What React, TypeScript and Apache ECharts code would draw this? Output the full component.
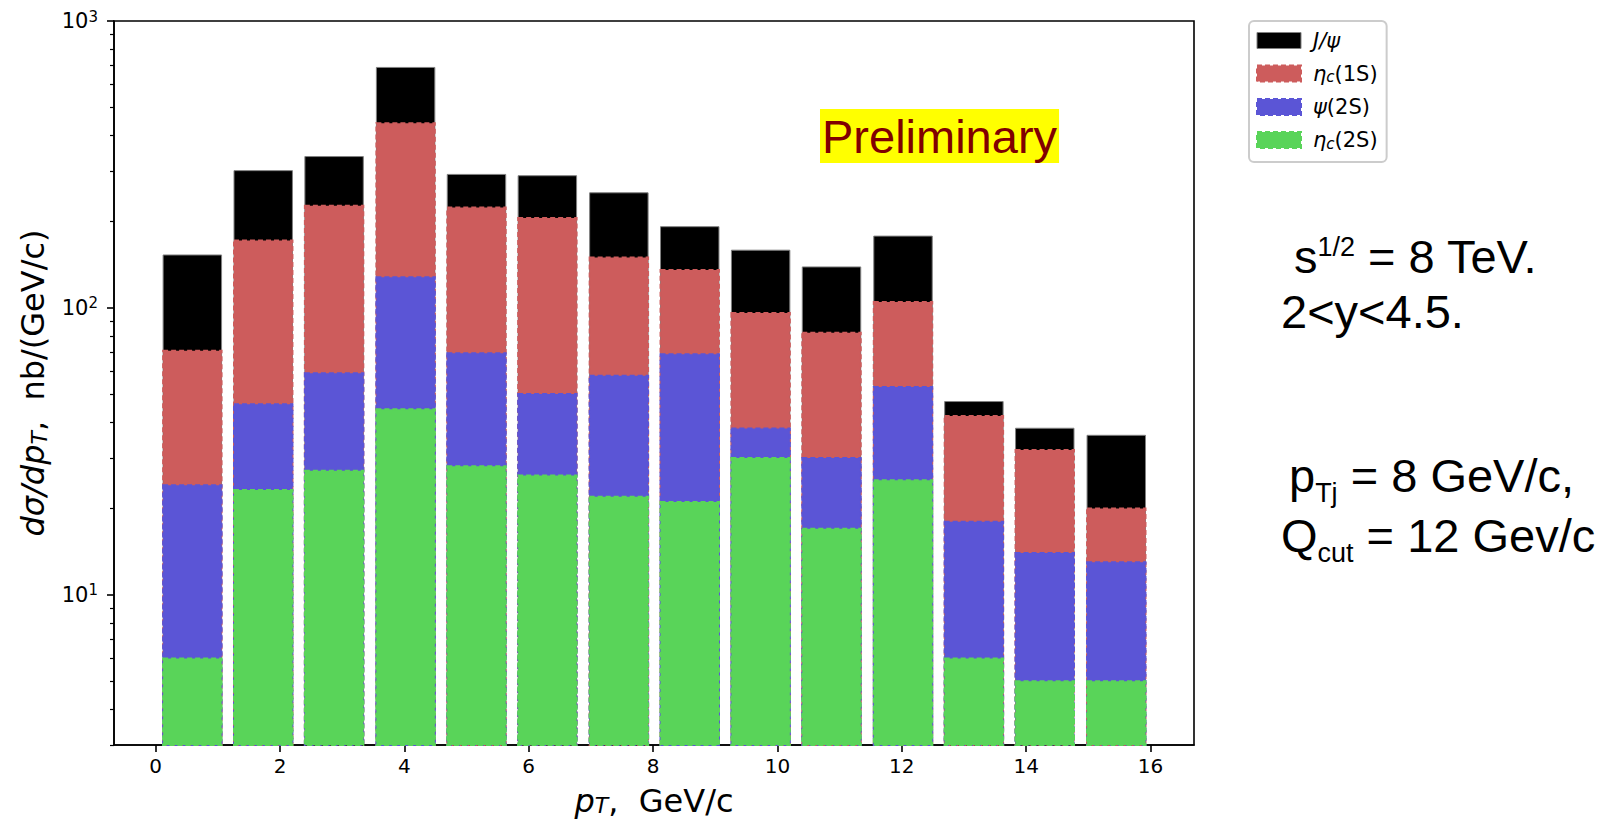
import React, { useEffect, useRef } from "react";
import * as echarts from "echarts";

// bar centres (pT, GeV/c)
const pT = [0.59, 1.73, 2.87, 4.02, 5.16, 6.3, 7.45, 8.59, 9.73, 10.87, 12.02, 13.16, 14.3, 15.45];
// cumulative tops of each contribution (nb/(GeV/c))
const jpsi = [153, 301, 337, 689, 292, 289, 252, 192, 159, 139, 178, 47.2, 38.1, 36];
const etac1S = [71, 172, 227, 440, 224, 206, 150, 135.5, 96, 82, 105, 42, 32, 20];
const psi2S = [24.1, 46.2, 59.2, 128, 69.5, 50.1, 58, 69, 38, 30, 53, 18, 14, 13];
const etac2S = [6.0, 23.2, 27.1, 44.4, 28.1, 26.1, 22, 21.1, 30, 17, 25.1, 6.0, 5.0, 5.0];

const xTicks = [0, 2, 4, 6, 8, 10, 12, 14, 16];
const yMajorTicks = [10, 100, 1000];
const yMinorTicks = [3, 4, 5, 6, 7, 8, 9, 20, 30, 40, 50, 60, 70, 80, 90, 200, 300, 400, 500, 600, 700, 800, 900];

const Y_MIN = 3;
const Y_MAX = 1000;
const X_MIN = -0.67;
const X_MAX = 16.7;
const BAR_W = 0.94;

const BLACK = "#000000";
const RED = "#CD5C5C";
const BLUE = "#5B55D6";
const GREEN = "#59D459";

function barSeries(name: string, values: number[], fill: string, stroke: string, dashed: boolean) {
  return {
    type: "custom",
    name,
    xAxisIndex: 0,
    yAxisIndex: 0,
    itemStyle: { color: fill },
    encode: { x: 0, y: 1 },
    data: pT.map((x, i) => [x, values[i]]),
    renderItem: (params: any, api: any) => {
      const x = api.value(0);
      const v = api.value(1);
      const tl = api.coord([x - BAR_W / 2, v]);
      const br = api.coord([x + BAR_W / 2, Y_MIN]);
      return {
        type: "rect",
        shape: { x: tl[0], y: tl[1], width: br[0] - tl[0], height: br[1] - tl[1] },
        style: {
          fill,
          stroke,
          lineWidth: dashed ? 2 : 1,
          lineDash: dashed ? [5, 3] : null,
        },
      };
    },
  };
}

const legendRich = {
  i: { fontFamily: "DejaVu Sans", fontStyle: "italic", fontSize: 21, lineHeight: 22, color: "#000" },
  n: { fontFamily: "DejaVu Sans", fontSize: 21, lineHeight: 22, color: "#000" },
  s: { fontFamily: "DejaVu Sans", fontStyle: "italic", fontSize: 15, lineHeight: 10, verticalAlign: "bottom", color: "#000" },
};

const legendLabels: Record<string, string> = {
  Jpsi: "{i|J/ψ}",
  etac1S: "{i|η}{s|c}{n|(1S)}",
  psi2S: "{i|ψ}{n|(2S)}",
  etac2S: "{i|η}{s|c}{n|(2S)}",
};

const sideMain = { fontFamily: "Liberation Sans", fontSize: 47, lineHeight: 46, fill: "#000" };
const sideMainTall = { fontFamily: "Liberation Sans", fontSize: 47, lineHeight: 62, fill: "#000" };
const sideSup = { fontFamily: "Liberation Sans", fontSize: 27, lineHeight: 27, verticalAlign: "top", fill: "#000" };
const sideSub = { fontFamily: "Liberation Sans", fontSize: 27, lineHeight: 10, verticalAlign: "bottom", fill: "#000" };

export default function App() {
  const ref = useRef<HTMLDivElement>(null);
  useEffect(() => {
    if (!ref.current) return;
    const chart = echarts.init(ref.current, null, { renderer: "svg" });
    const option: any = {
      animation: false,
      backgroundColor: "#ffffff",
      textStyle: { fontFamily: "DejaVu Sans" },
      grid: {
        left: 114,
        top: 21,
        right: 416,
        bottom: 76,
        show: true,
        borderColor: "#000",
        borderWidth: 1.6,
        backgroundColor: "transparent",
        outerBoundsMode: "none",
      },
      xAxis: {
        type: "value",
        min: X_MIN,
        max: X_MAX,
        splitLine: { show: false },
        axisLine: { show: true, onZero: false, lineStyle: { color: "#000", width: 1.6 } },
        axisTick: { show: true, length: 7, customValues: xTicks, lineStyle: { color: "#000", width: 1.6 } },
        axisLabel: { customValues: xTicks, fontSize: 20, color: "#000", margin: 11, fontFamily: "DejaVu Sans" },
        name: "{i|p}{s|T}{n|,  GeV/c}",
        nameLocation: "middle",
        nameGap: 41,
        nameTextStyle: {
          rich: {
            i: { fontFamily: "DejaVu Sans", fontStyle: "italic", fontSize: 32, lineHeight: 30, color: "#000" },
            s: { fontFamily: "DejaVu Sans", fontStyle: "italic", fontSize: 22, lineHeight: 8, verticalAlign: "bottom", color: "#000" },
            n: { fontFamily: "DejaVu Sans", fontSize: 32, lineHeight: 30, color: "#000" },
          },
        },
      },
      yAxis: [
        {
          type: "log",
          logBase: 10,
          min: Y_MIN,
          max: Y_MAX,
          splitLine: { show: false },
          axisLine: { show: true, onZero: false, lineStyle: { color: "#000", width: 1.6 } },
          axisTick: { show: true, length: 7, customValues: yMajorTicks, lineStyle: { color: "#000", width: 1.6 } },
          axisLabel: {
            customValues: yMajorTicks,
            margin: 16,
            formatter: (v: number) => `{b|10}{s|${Math.round(Math.log10(v))}}`,
            rich: {
              b: { fontFamily: "DejaVu Sans", fontSize: 21, lineHeight: 24, color: "#000" },
              s: { fontFamily: "DejaVu Sans", fontSize: 15, lineHeight: 14, verticalAlign: "top", color: "#000" },
            },
          },
          name: "{i|dσ/dp}{s|T}{n|,  nb/(GeV/c)}",
          nameLocation: "middle",
          nameRotate: 90,
          nameGap: 62,
          nameTextStyle: {
            rich: {
              i: { fontFamily: "DejaVu Sans", fontStyle: "italic", fontSize: 32, lineHeight: 36, color: "#000" },
              s: { fontFamily: "DejaVu Sans", fontStyle: "italic", fontSize: 22, lineHeight: 14, verticalAlign: "bottom", color: "#000" },
              n: { fontFamily: "DejaVu Sans", fontSize: 32, lineHeight: 36, color: "#000" },
            },
          },
        },
        {
          type: "log",
          logBase: 10,
          min: Y_MIN,
          max: Y_MAX,
          position: "left",
          offset: 0,
          splitLine: { show: false },
          axisLine: { show: false, onZero: false },
          axisLabel: { show: false },
          axisTick: { show: true, length: 4, customValues: yMinorTicks, lineStyle: { color: "#000", width: 1.2 } },
        },
      ],
      legend: {
        left: 1249,
        top: 21,
        orient: "vertical",
        icon: "rect",
        itemWidth: 44,
        itemHeight: 16,
        itemGap: 12,
        padding: [9, 9, 11, 7],
        backgroundColor: "#fff",
        borderColor: "#cccccc",
        borderWidth: 2,
        borderRadius: 5,
        selectedMode: false,
        data: [
          { name: "Jpsi", itemStyle: { borderColor: "#808080", borderWidth: 1 } },
          { name: "etac1S", itemStyle: { borderColor: RED, borderWidth: 2, borderType: [5, 3] } },
          { name: "psi2S", itemStyle: { borderColor: BLUE, borderWidth: 2, borderType: [5, 3] } },
          { name: "etac2S", itemStyle: { borderColor: GREEN, borderWidth: 2, borderType: [5, 3] } },
        ],
        formatter: (name: string) => legendLabels[name],
        textStyle: { padding: [0, 0, 0, 7], rich: legendRich },
      },
      graphic: [
        {
          type: "text",
          left: 820,
          top: 109,
          z: 10,
          style: {
            text: "Preliminary",
            fontFamily: "Liberation Sans",
            fontSize: 47,
            lineHeight: 52,
            fill: "#800000",
            backgroundColor: "#ffff00",
            padding: [1, 2, 1, 2],
          },
        },
        {
          type: "text",
          x: 1294,
          y: 233,
          style: {
            text: "{m|s}{p|1/2}{m| = 8 TeV.}",
            verticalAlign: "top",
            rich: { m: sideMain, p: sideSup },
          },
        },
        {
          type: "text",
          x: 1281,
          y: 288,
          style: { text: "{m|2<y<4.5.}", verticalAlign: "top", rich: { m: sideMain } },
        },
        {
          type: "text",
          x: 1289,
          y: 444,
          style: {
            text: "{m|p}{b|Tj}{m| = 8 GeV/c,}",
            verticalAlign: "top",
            rich: { m: sideMainTall, b: sideSub },
          },
        },
        {
          type: "text",
          x: 1281,
          y: 504,
          style: {
            text: "{m|Q}{b|cut}{m| = 12 Gev/c}",
            verticalAlign: "top",
            rich: { m: sideMainTall, b: sideSub },
          },
        },
      ],
      series: [
        barSeries("Jpsi", jpsi, BLACK, "#808080", false),
        barSeries("etac1S", etac1S, RED, RED, true),
        barSeries("psi2S", psi2S, BLUE, BLUE, true),
        barSeries("etac2S", etac2S, GREEN, GREEN, true),
      ],
    };
    chart.setOption(option);
    return () => chart.dispose();
  }, []);
  return (
    <div
      ref={ref}
      style={{ position: "fixed", left: 0, top: 0, width: 1610, height: 821, background: "#fff" }}
    />
  );
}
